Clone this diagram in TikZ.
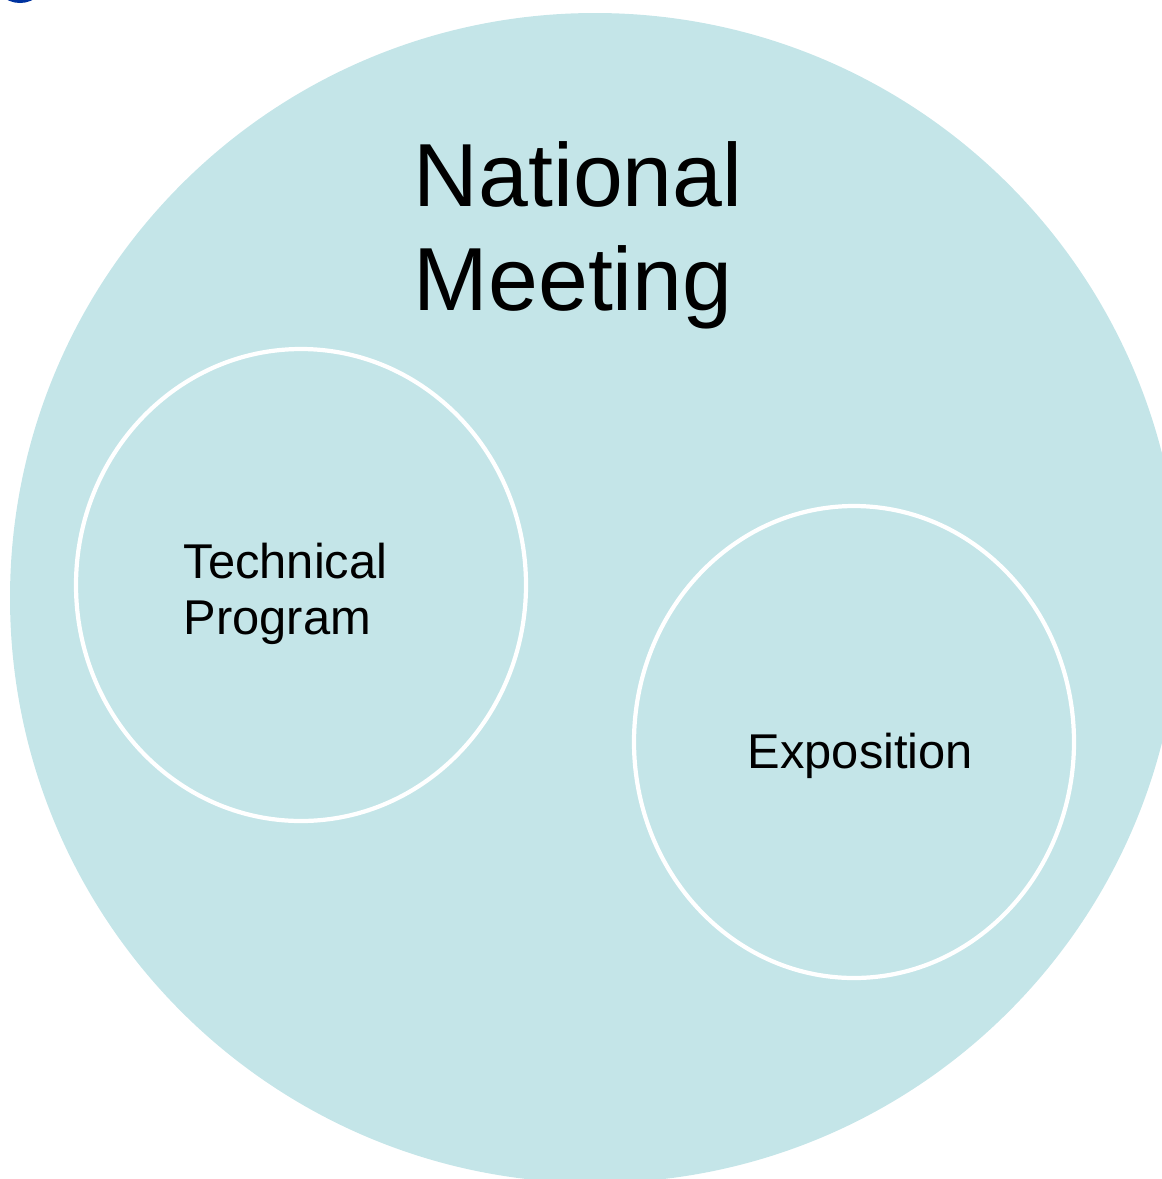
\documentclass[tikz,border=0pt]{standalone}
\usepackage{fontspec}
\setmainfont{Liberation Sans}
\usetikzlibrary{shapes.geometric}
\definecolor{venn}{RGB}{196,229,232}
\definecolor{corner}{RGB}{0,51,160}

\begin{document}
\begin{tikzpicture}[x=0.1mm, y=-0.1mm]
                % Page size and clipping
                \useasboundingbox (0, 0) rectangle (1162, 1179);
                \clip (0, 0) rectangle (1162, 1179);

                % Blue shape cut off at the top left
                \fill[corner] (20, -24.5) ellipse (27.5 and 27.5);

                % Outer set
                \node[circle, fill=venn, minimum size=117mm, inner sep=0] (meeting) at (595, 598) {};

                % Inner sets
                \node[ellipse, draw=white, line width=1.2pt, fill=venn, minimum width=45mm, minimum height=47.2mm, inner sep=0] (tech) at (301, 585) {};
                \node[ellipse, draw=white, line width=1.2pt, fill=venn, minimum width=44mm, minimum height=47.2mm, inner sep=0] (expo) at (854, 742) {};

                % Labels (base is the last line)
                \node[anchor=base west, inner sep=0, align=left, font=\fontsize{25.5}{29.5}\selectfont] (meetinglabel) at (413, 310) {National\\Meeting};
                \node[anchor=base west, inner sep=0, align=left, font=\fontsize{13.9}{15.9}\selectfont] (techlabel) at (183, 634) {Technical\\Program};
                \node[anchor=base west, inner sep=0, font=\fontsize{13.9}{15.9}\selectfont] (expolabel) at (747, 768) {Exposition};
\end{tikzpicture}
\end{document}
